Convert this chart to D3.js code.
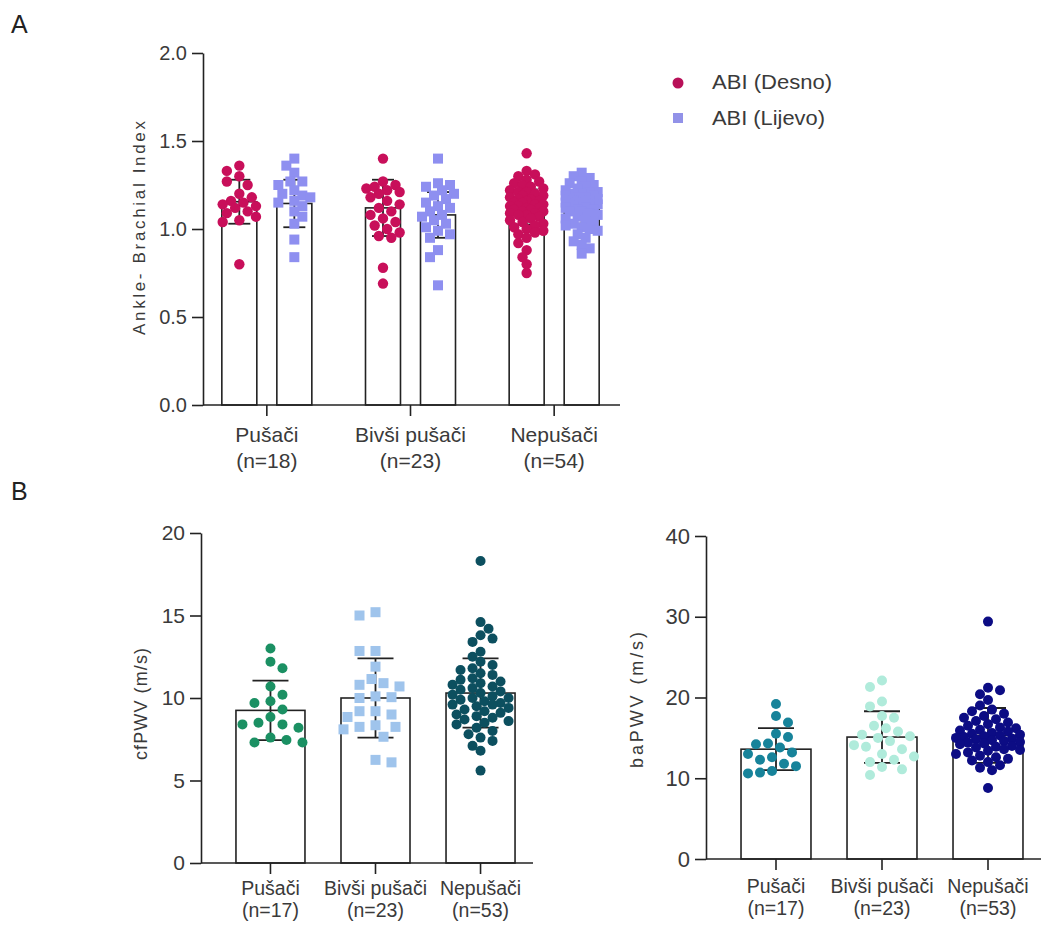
<!DOCTYPE html>
<html><head><meta charset="utf-8">
<script src="https://cdn.jsdelivr.net/npm/d3@7"></script>
<style>
body{margin:0;background:#fff;}
text{font-family:"Liberation Sans", Arial, sans-serif;}
</style>
</head><body>
<svg id="chart" width="1047" height="926"></svg>
<script>
// ---------- Panel A data ----------
const groupsA = ["Pušači", "Bivši pušači", "Nepušači"];
const nA = ["(n=18)", "(n=23)", "(n=54)"];
const seriesA = ["ABI (Desno)", "ABI (Lijevo)"];
const abiDesno = [
  [1.36, 1.33, 1.30, 1.27, 1.25, 1.20, 1.18, 1.16, 1.15, 1.14, 1.13, 1.12, 1.10, 1.09, 1.07, 1.05, 1.04, 0.80],
  [1.40, 1.27, 1.25, 1.24, 1.23, 1.22, 1.21, 1.20, 1.18, 1.16, 1.14, 1.12, 1.10, 1.08, 1.06, 1.04, 1.02, 1.00, 0.98, 0.96, 0.95, 0.78, 0.69],
  [1.43, 1.33, 1.31, 1.30, 1.28, 1.27, 1.26, 1.25, 1.24, 1.23, 1.22, 1.21, 1.21, 1.20, 1.19, 1.19, 1.18, 1.17, 1.17, 1.16, 1.16, 1.15, 1.15, 1.14, 1.14, 1.13, 1.13, 1.12, 1.12, 1.11, 1.11, 1.10, 1.10, 1.09, 1.09, 1.08, 1.08, 1.07, 1.06, 1.05, 1.04, 1.03, 1.02, 1.01, 1.00, 0.99, 0.98, 0.97, 0.95, 0.92, 0.88, 0.84, 0.80, 0.75]
];
const abiLijevo = [
  [1.40, 1.36, 1.32, 1.27, 1.27, 1.25, 1.22, 1.20, 1.19, 1.18, 1.16, 1.15, 1.13, 1.10, 1.07, 1.03, 0.94, 0.84],
  [1.40, 1.26, 1.25, 1.24, 1.22, 1.20, 1.19, 1.17, 1.15, 1.13, 1.12, 1.10, 1.08, 1.07, 1.05, 1.03, 1.01, 0.99, 0.97, 0.95, 0.88, 0.84, 0.68],
  [1.32, 1.30, 1.29, 1.27, 1.26, 1.25, 1.24, 1.23, 1.22, 1.21, 1.21, 1.20, 1.20, 1.19, 1.19, 1.18, 1.18, 1.17, 1.17, 1.16, 1.16, 1.16, 1.15, 1.15, 1.15, 1.14, 1.14, 1.14, 1.13, 1.13, 1.13, 1.12, 1.12, 1.11, 1.11, 1.10, 1.10, 1.09, 1.08, 1.07, 1.06, 1.05, 1.04, 1.03, 1.02, 1.01, 1.00, 0.99, 0.97, 0.95, 0.93, 0.91, 0.89, 0.86]
];
const abiDesnoMean = [1.155, 1.12, 1.125];
const abiDesnoSD = [0.125, 0.16, 0.10];
const abiLijevoMean = [1.145, 1.08, 1.12];
const abiLijevoSD = [0.135, 0.13, 0.09];
const ticksA = [0, 0.5, 1.0, 1.5, 2.0];

// ---------- Panel B data ----------
const groupsB = ["Pušači", "Bivši pušači", "Nepušači"];
const nB = ["(n=17)", "(n=23)", "(n=53)"];
const cfPWV = [
  [13.0, 12.2, 11.8, 10.7, 10.2, 9.8, 9.7, 9.3, 8.85, 8.5, 8.4, 8.4, 8.2, 7.6, 7.45, 7.3, 7.3],
  [15.2, 15.0, 12.85, 12.85, 11.9, 11.15, 10.9, 10.8, 10.7, 10.1, 10.05, 10.0, 9.2, 9.2, 9.0, 8.85, 8.35, 8.25, 8.25, 8.1, 7.65, 6.25, 6.1],
  [18.3, 14.6, 14.2, 13.8, 13.6, 13.4, 12.8, 12.5, 12.2, 12.0, 11.8, 11.7, 11.5, 11.4, 11.2, 11.1, 11.0, 10.9, 10.8, 10.7, 10.6, 10.5, 10.4, 10.3, 10.2, 10.1, 10.0, 10.0, 9.9, 9.8, 9.7, 9.6, 9.6, 9.5, 9.4, 9.3, 9.2, 9.1, 9.0, 8.9, 8.8, 8.7, 8.6, 8.5, 8.4, 8.2, 8.0, 7.8, 7.6, 7.4, 7.1, 6.8, 5.6]
];
const cfMean = [9.25, 10.0, 10.3];
const cfSD = [1.8, 2.4, 2.1];
const ticksCF = [0, 5, 10, 15, 20];

const baPWV = [
  [19.2, 17.7, 16.9, 15.5, 15.1, 14.3, 14.2, 13.8, 13.2, 13.0, 12.6, 12.3, 11.8, 11.5, 10.9, 10.7, 10.6],
  [22.1, 21.3, 19.5, 18.9, 17.7, 17.5, 16.5, 16.2, 15.8, 15.4, 15.2, 15.0, 14.6, 14.1, 13.9, 13.6, 13.0, 12.7, 12.3, 12.0, 11.4, 11.1, 10.4],
  [29.4, 21.2, 20.9, 20.4, 19.7, 19.0, 18.5, 18.3, 18.0, 17.7, 17.5, 17.3, 17.1, 16.9, 16.7, 16.5, 16.3, 16.2, 16.0, 15.9, 15.8, 15.6, 15.5, 15.4, 15.3, 15.2, 15.1, 15.0, 14.9, 14.8, 14.7, 14.6, 14.5, 14.4, 14.3, 14.2, 14.0, 13.9, 13.8, 13.6, 13.5, 13.4, 13.2, 13.0, 12.8, 12.6, 12.4, 12.2, 12.0, 11.6, 11.3, 11.0, 8.8]
];
const baMean = [13.6, 15.1, 15.3];
const baSD = [2.6, 3.2, 3.4];
const ticksBA = [0, 10, 20, 30, 40];

// ---------- helpers ----------
const svg = d3.select("#chart");
const AXIS = "#222";
const TXT = "#3a3a3a";

function swarm(vals, y, r, maxOff, step, tight) {
  const placed = [];
  const order = vals.map(v => v).sort((a, b) => b - a);
  order.forEach((v, idx) => {
    const py = y(v);
    const cands = [0];
    for (let k = step; k <= maxOff + 1e-6; k += step) {
      if (idx % 2) { cands.push(-k, k); } else { cands.push(k, -k); }
    }
    let best = 0, bestD = -1;
    for (const c of cands) {
      let md = Infinity;
      for (const p of placed) {
        const d = Math.hypot(p.dx - c, p.py - py);
        if (d < md) md = d;
      }
      if (md >= 2 * r * tight) { best = c; bestD = md; break; }
      if (md > bestD) { bestD = md; best = c; }
    }
    placed.push({ v, dx: best, py });
  });
  return placed;
}

function drawGroup(g, cx, bw, y, vals, mean, sd, color, shape, r, maxOff, capW, tight) {
  const base = y.range()[0];
  g.append("rect")
    .attr("x", cx - bw / 2).attr("y", y(mean))
    .attr("width", bw).attr("height", base - y(mean))
    .attr("fill", "#fff").attr("stroke", AXIS).attr("stroke-width", 1.6);
  const eb = g.append("g").attr("stroke", AXIS).attr("stroke-width", 1.8);
  eb.append("line").attr("x1", cx).attr("x2", cx).attr("y1", y(mean + sd)).attr("y2", y(mean - sd));
  eb.append("line").attr("x1", cx - capW / 2).attr("x2", cx + capW / 2).attr("y1", y(mean + sd)).attr("y2", y(mean + sd));
  eb.append("line").attr("x1", cx - capW / 2).attr("x2", cx + capW / 2).attr("y1", y(mean - sd)).attr("y2", y(mean - sd));
  const pts = swarm(vals, y, r, maxOff, r * 0.8, tight);
  if (shape === "circle") {
    g.selectAll(null).data(pts).enter().append("circle")
      .attr("cx", d => cx + d.dx).attr("cy", d => d.py).attr("r", r)
      .attr("fill", color);
  } else {
    g.selectAll(null).data(pts).enter().append("rect")
      .attr("x", d => cx + d.dx - r).attr("y", d => d.py - r)
      .attr("width", 2 * r).attr("height", 2 * r)
      .attr("fill", color);
  }
}

function yAxis(g, x0, y, ticks, fmt, fs) {
  const ax = g.append("g").attr("transform", `translate(${x0},0)`)
    .call(d3.axisLeft(y).tickValues(ticks).tickFormat(fmt).tickSize(11).tickSizeOuter(0).tickPadding(5));
  ax.select(".domain").attr("stroke", AXIS).attr("stroke-width", 1.6);
  ax.selectAll(".tick line").attr("stroke", AXIS).attr("stroke-width", 1.6);
  ax.selectAll(".tick text").attr("fill", TXT).attr("font-size", fs)
    .attr("font-family", "'Liberation Sans', Arial, sans-serif");
}

function xAxis(g, x, xStart, xEnd, base, labels, nLabels, fs, dy1, dy2) {
  g.append("line").attr("x1", xStart).attr("x2", xEnd).attr("y1", base).attr("y2", base)
    .attr("stroke", AXIS).attr("stroke-width", 1.6);
  const ax = g.append("g").attr("transform", `translate(0,${base})`)
    .call(d3.axisBottom(x).tickSize(11).tickSizeOuter(0).tickFormat(""));
  ax.select(".domain").remove();
  ax.selectAll(".tick line").attr("stroke", AXIS).attr("stroke-width", 1.6);
  labels.forEach((lab, i) => {
    const cx = x(lab) + x.bandwidth() / 2;
    g.append("text").attr("x", cx).attr("y", base + dy1).attr("text-anchor", "middle")
      .attr("font-size", fs).attr("fill", TXT).text(lab);
    g.append("text").attr("x", cx).attr("y", base + dy2).attr("text-anchor", "middle")
      .attr("font-size", fs).attr("fill", TXT).text(nLabels[i]);
  });
}

function yTitle(g, x, yc, txt, fs, len) {
  g.append("text").attr("transform", `translate(${x},${yc}) rotate(-90)`)
    .attr("text-anchor", "middle").attr("font-size", fs).attr("fill", TXT)
    .attr("textLength", len).attr("lengthAdjust", "spacing").text(txt);
}

// ---------- Panel A ----------
{
  const g = svg.append("g");
  const yA = d3.scaleLinear().domain([0, 2]).range([405, 53]);
  const xA = d3.scaleBand().domain(groupsA).range([195, 626]).paddingInner(0).paddingOuter(0);
  const xSub = d3.scaleBand().domain(seriesA).range([-45, 45]).paddingInner(0.364).paddingOuter(0);
  const colorsA = ["#c80f5a", "#8e8ff0"];
  const tightA = [0.95, 0.9, 0.72];
  groupsA.forEach((grp, i) => {
    const c = xA(grp) + xA.bandwidth() / 2;
    const bw = xSub.bandwidth();
    drawGroup(g, c + xSub(seriesA[0]) + bw / 2, bw, yA, abiDesno[i], abiDesnoMean[i], abiDesnoSD[i], colorsA[0], "circle", 5.2, 17, 22, tightA[i]);
    drawGroup(g, c + xSub(seriesA[1]) + bw / 2, bw, yA, abiLijevo[i], abiLijevoMean[i], abiLijevoSD[i], colorsA[1], "square", 5, 17, 22, tightA[i]);
  });
  yAxis(g, 203, yA, ticksA, d3.format(".1f"), 20);
  xAxis(g, xA, 203, 620, 405, groupsA, nA, 21, 37, 63);
  yTitle(g, 145, 228, "Ankle- Brachial Index", 17, 214);
  const lg = g.append("g");
  lg.append("circle").attr("cx", 678).attr("cy", 83).attr("r", 5.5).attr("fill", "#b81058");
  lg.append("rect").attr("x", 673).attr("y", 113).attr("width", 10).attr("height", 10).attr("fill", "#9292e8");
  lg.append("text").attr("x", 712).attr("y", 89).attr("font-size", 20).attr("fill", TXT)
    .attr("textLength", 120).attr("lengthAdjust", "spacingAndGlyphs").text(seriesA[0]);
  lg.append("text").attr("x", 712).attr("y", 125).attr("font-size", 20).attr("fill", TXT)
    .attr("textLength", 113).attr("lengthAdjust", "spacingAndGlyphs").text(seriesA[1]);
  g.append("text").attr("x", 11).attr("y", 33).attr("font-size", 25).attr("fill", "#222").text("A");
}

// ---------- Panel B left (cfPWV) ----------
{
  const g = svg.append("g");
  const y = d3.scaleLinear().domain([0, 20]).range([863, 533]);
  const x = d3.scaleBand().domain(groupsB).range([218, 533]).paddingInner(0.343).paddingOuter(0.171);
  const cols = ["#1b9063", "#9fc4ec", "#0c4f5f"];
  const shapes = ["circle", "square", "circle"];
  const tightB = [1.3, 1.25, 0.92];
  groupsB.forEach((grp, i) => {
    drawGroup(g, x(grp) + x.bandwidth() / 2, x.bandwidth(), y, cfPWV[i], cfMean[i], cfSD[i], cols[i], shapes[i], 5, 32, 36, tightB[i]);
  });
  yAxis(g, 201, y, ticksCF, d3.format("d"), 21);
  xAxis(g, x, 201, 533, 863, groupsB, nB, 19.5, 32, 54);
  yTitle(g, 147, 704, "cfPWV (m/s)", 18, 112);
  g.append("text").attr("x", 11).attr("y", 500).attr("font-size", 25).attr("fill", "#222").text("B");
}

// ---------- Panel B right (baPWV) ----------
{
  const g = svg.append("g");
  const y = d3.scaleLinear().domain([0, 40]).range([859, 536]);
  const x = d3.scaleBand().domain(groupsB).range([723, 1041]).paddingInner(0.34).paddingOuter(0.17);
  const cols = ["#17839a", "#b0ebdb", "#0c0c84"];
  const tightB = [1.2, 1.2, 0.9];
  groupsB.forEach((grp, i) => {
    drawGroup(g, x(grp) + x.bandwidth() / 2, x.bandwidth(), y, baPWV[i], baMean[i], baSD[i], cols[i], "circle", 5, 32, 36, tightB[i]);
  });
  yAxis(g, 706, y, ticksBA, d3.format("d"), 22);
  xAxis(g, x, 706, 1041, 859, groupsB, nB, 19.5, 34, 56);
  yTitle(g, 643, 700, "baPWV (m/s)", 18, 136);
}
</script>
</body></html>
